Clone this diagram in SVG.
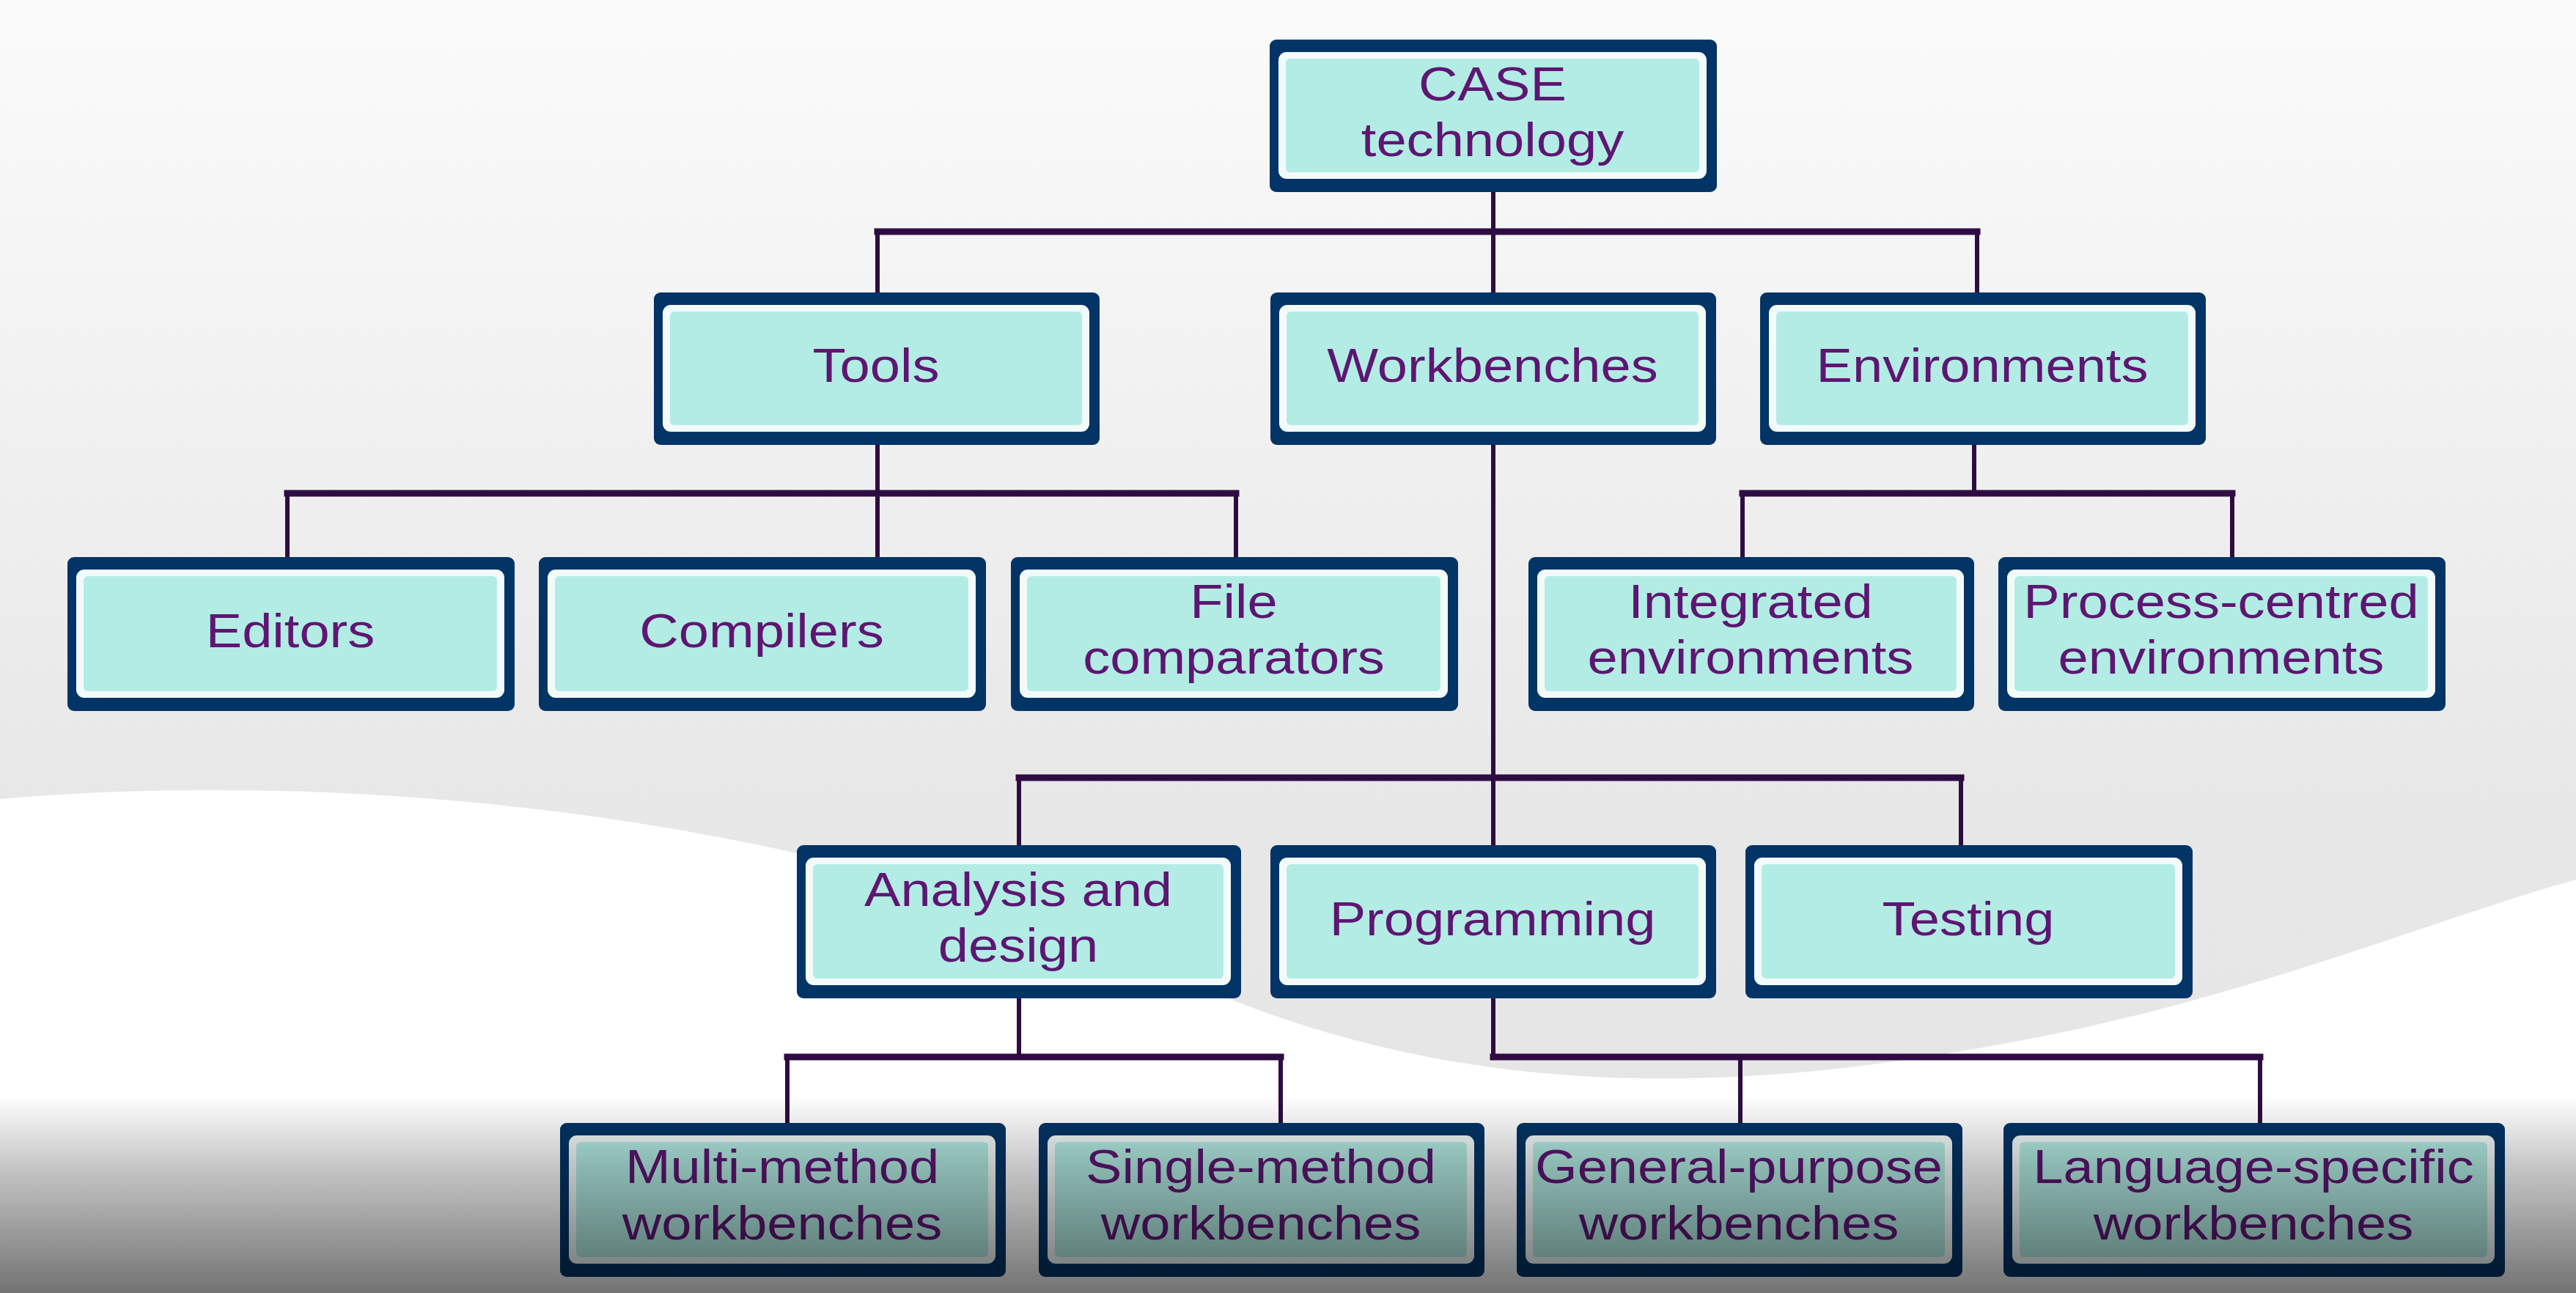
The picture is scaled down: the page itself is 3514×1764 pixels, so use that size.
<svg xmlns="http://www.w3.org/2000/svg" width="3514" height="1764" viewBox="0 0 3514 1764">
<style>
.o{fill:#033466}
.w{fill:#f2fbfa}
.f{fill:#b3ece4}
.t{font-family:"Liberation Sans",Arial,sans-serif;font-size:65px;fill:#5e1672;text-anchor:middle}
.c{stroke:#2e0c42;fill:none;stroke-linecap:square}
.h{stroke-width:9}
.v{stroke-width:6}
</style>
<defs>
<linearGradient id="bg" x1="0" y1="0" x2="0" y2="1">
<stop offset="0" stop-color="#fbfbfb"/>
<stop offset="0.35" stop-color="#f0f0f0"/>
<stop offset="0.6" stop-color="#e8e8e8"/>
<stop offset="1" stop-color="#e4e4e4"/>
</linearGradient>
<linearGradient id="shade" x1="0" y1="0" x2="0" y2="1">
<stop offset="0" stop-color="#000" stop-opacity="0"/>
<stop offset="0.35" stop-color="#000" stop-opacity="0.22"/>
<stop offset="1" stop-color="#000" stop-opacity="0.55"/>
</linearGradient>
</defs>
<rect x="0" y="0" width="3514" height="1764" fill="url(#bg)"/>
<path d="M0,1090 C600,1040 1200,1150 1600,1330 C1950,1490 2300,1500 2700,1430 C3050,1370 3300,1260 3514,1200 L3514,1764 L0,1764 Z" fill="#ffffff"/>

<g id="connectors">
<path class="c v" d="M2037,262 V1153"/>
<path class="c h" d="M1197,316 H2697"/>
<path class="c v" d="M1197,316 V399 M2697,316 V399"/>
<path class="c v" d="M1197,607 V760"/>
<path class="c h" d="M392,673 H1686"/>
<path class="c v" d="M392,673 V760 M1686,673 V760"/>
<path class="c v" d="M2693,607 V673"/>
<path class="c h" d="M2377,673 H3045"/>
<path class="c v" d="M2377,673 V760 M3045,673 V760"/>
<path class="c h" d="M1390,1061 H2675"/>
<path class="c v" d="M1390,1061 V1153 M2675,1061 V1153"/>
<path class="c v" d="M1390,1362 V1442"/>
<path class="c h" d="M1074,1442 H1747"/>
<path class="c v" d="M1074,1442 V1532 M1747,1442 V1532"/>
<path class="c v" d="M2037,1362 V1442"/>
<path class="c h" d="M2037,1442 H3083"/>
<path class="c v" d="M2374,1442 V1532 M3083,1442 V1532"/>
</g>

<g id="case">
<rect class="o" x="1732" y="54" width="610" height="208" rx="9"/>
<rect class="w" x="1744" y="71" width="584" height="173" rx="11"/>
<rect class="f" x="1754" y="80" width="564" height="155" rx="6"/>
<text class="t" transform="translate(2036,137) scale(1.14,1)">CASE</text>
<text class="t" transform="translate(2036,213) scale(1.14,1)">technology</text>
</g>

<g id="tools">
<rect class="o" x="892" y="399" width="608" height="208" rx="9"/>
<rect class="w" x="904" y="416" width="582" height="173" rx="11"/>
<rect class="f" x="914" y="425" width="562" height="155" rx="6"/>
<text class="t" transform="translate(1195,521) scale(1.14,1)">Tools</text>
</g>
<g id="workbenches">
<rect class="o" x="1733" y="399" width="608" height="208" rx="9"/>
<rect class="w" x="1745" y="416" width="582" height="173" rx="11"/>
<rect class="f" x="1755" y="425" width="562" height="155" rx="6"/>
<text class="t" transform="translate(2036,521) scale(1.14,1)">Workbenches</text>
</g>
<g id="environments">
<rect class="o" x="2401" y="399" width="608" height="208" rx="9"/>
<rect class="w" x="2413" y="416" width="582" height="173" rx="11"/>
<rect class="f" x="2423" y="425" width="562" height="155" rx="6"/>
<text class="t" transform="translate(2704,521) scale(1.14,1)">Environments</text>
</g>

<g id="editors">
<rect class="o" x="92" y="760" width="610" height="210" rx="9"/>
<rect class="w" x="104" y="777" width="584" height="175" rx="11"/>
<rect class="f" x="114" y="786" width="564" height="157" rx="6"/>
<text class="t" transform="translate(396,883) scale(1.14,1)">Editors</text>
</g>
<g id="compilers">
<rect class="o" x="735" y="760" width="610" height="210" rx="9"/>
<rect class="w" x="747" y="777" width="584" height="175" rx="11"/>
<rect class="f" x="757" y="786" width="564" height="157" rx="6"/>
<text class="t" transform="translate(1039,883) scale(1.14,1)">Compilers</text>
</g>
<g id="file-comparators">
<rect class="o" x="1379" y="760" width="610" height="210" rx="9"/>
<rect class="w" x="1391" y="777" width="584" height="175" rx="11"/>
<rect class="f" x="1401" y="786" width="564" height="157" rx="6"/>
<text class="t" transform="translate(1683,843) scale(1.14,1)">File</text>
<text class="t" transform="translate(1683,919) scale(1.14,1)">comparators</text>
</g>
<g id="integrated-environments">
<rect class="o" x="2085" y="760" width="608" height="210" rx="9"/>
<rect class="w" x="2097" y="777" width="582" height="175" rx="11"/>
<rect class="f" x="2107" y="786" width="562" height="157" rx="6"/>
<text class="t" transform="translate(2388,843) scale(1.14,1)">Integrated</text>
<text class="t" transform="translate(2388,919) scale(1.14,1)">environments</text>
</g>
<g id="process-centred-environments">
<rect class="o" x="2726" y="760" width="610" height="210" rx="9"/>
<rect class="w" x="2738" y="777" width="584" height="175" rx="11"/>
<rect class="f" x="2748" y="786" width="564" height="157" rx="6"/>
<text class="t" transform="translate(3030,843) scale(1.14,1)">Process-centred</text>
<text class="t" transform="translate(3030,919) scale(1.14,1)">environments</text>
</g>

<g id="analysis-and-design">
<rect class="o" x="1087" y="1153" width="606" height="209" rx="9"/>
<rect class="w" x="1099" y="1170" width="580" height="174" rx="11"/>
<rect class="f" x="1109" y="1179" width="560" height="156" rx="6"/>
<text class="t" transform="translate(1389,1236) scale(1.14,1)">Analysis and</text>
<text class="t" transform="translate(1389,1312) scale(1.14,1)">design</text>
</g>
<g id="programming">
<rect class="o" x="1733" y="1153" width="608" height="209" rx="9"/>
<rect class="w" x="1745" y="1170" width="582" height="174" rx="11"/>
<rect class="f" x="1755" y="1179" width="562" height="156" rx="6"/>
<text class="t" transform="translate(2036,1276) scale(1.14,1)">Programming</text>
</g>
<g id="testing">
<rect class="o" x="2381" y="1153" width="610" height="209" rx="9"/>
<rect class="w" x="2393" y="1170" width="584" height="174" rx="11"/>
<rect class="f" x="2403" y="1179" width="564" height="156" rx="6"/>
<text class="t" transform="translate(2685,1276) scale(1.14,1)">Testing</text>
</g>

<g id="multi-method-workbenches">
<rect class="o" x="764" y="1532" width="608" height="210" rx="9"/>
<rect class="w" x="776" y="1549" width="582" height="175" rx="11"/>
<rect class="f" x="786" y="1558" width="562" height="157" rx="6"/>
<text class="t" transform="translate(1067,1614) scale(1.14,1)">Multi-method</text>
<text class="t" transform="translate(1067,1691) scale(1.14,1)">workbenches</text>
</g>
<g id="single-method-workbenches">
<rect class="o" x="1417" y="1532" width="608" height="210" rx="9"/>
<rect class="w" x="1429" y="1549" width="582" height="175" rx="11"/>
<rect class="f" x="1439" y="1558" width="562" height="157" rx="6"/>
<text class="t" transform="translate(1720,1614) scale(1.14,1)">Single-method</text>
<text class="t" transform="translate(1720,1691) scale(1.14,1)">workbenches</text>
</g>
<g id="general-purpose-workbenches">
<rect class="o" x="2069" y="1532" width="608" height="210" rx="9"/>
<rect class="w" x="2081" y="1549" width="582" height="175" rx="11"/>
<rect class="f" x="2091" y="1558" width="562" height="157" rx="6"/>
<text class="t" transform="translate(2372,1614) scale(1.14,1)">General-purpose</text>
<text class="t" transform="translate(2372,1691) scale(1.14,1)">workbenches</text>
</g>
<g id="language-specific-workbenches">
<rect class="o" x="2733" y="1532" width="684" height="210" rx="9"/>
<rect class="w" x="2745" y="1549" width="658" height="175" rx="11"/>
<rect class="f" x="2755" y="1558" width="638" height="157" rx="6"/>
<text class="t" transform="translate(3074,1614) scale(1.14,1)">Language-specific</text>
<text class="t" transform="translate(3074,1691) scale(1.14,1)">workbenches</text>
</g>

<rect x="0" y="1495" width="3514" height="269" fill="url(#shade)" pointer-events="none"/>
</svg>
